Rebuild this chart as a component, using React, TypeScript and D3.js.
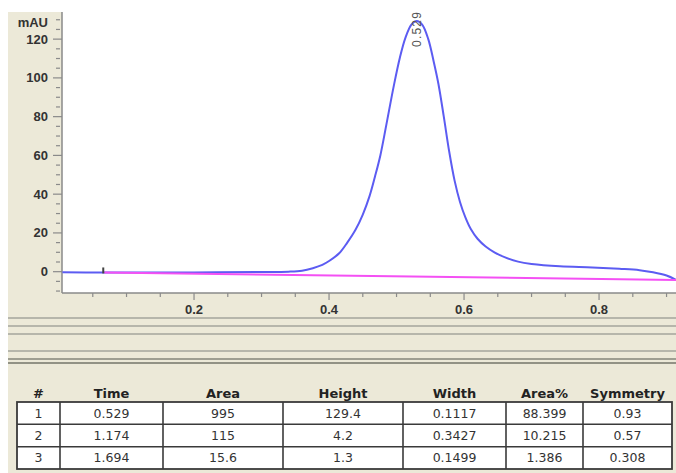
import React from "react";
import * as d3 from "d3";

const signalTimes = [0.005, 0.067, 0.1, 0.2, 0.3, 0.34, 0.36, 0.376, 0.39, 0.4, 0.415, 0.427, 0.439, 0.45, 0.46, 0.468, 0.476, 0.485, 0.496, 0.505, 0.513, 0.522, 0.53, 0.538, 0.547, 0.555, 0.562, 0.57, 0.578, 0.586, 0.594, 0.602, 0.61, 0.62, 0.632, 0.645, 0.66, 0.68, 0.7, 0.742, 0.79, 0.83, 0.86, 0.88, 0.9, 0.914];
const signalValues = [-0.3, -0.4, -0.4, -0.4, -0.2, 0, 0.5, 1.8, 3.5, 5.5, 9.5, 15, 21.5, 29.5, 39, 49, 60, 76, 96, 110.5, 120.5, 127.5, 129.4, 127.5, 120, 108.5, 97, 80, 62, 47, 36, 28, 22, 17, 13, 10, 7.5, 5.2, 4, 2.8, 2.2, 1.5, 0.8, -0.3, -2, -4.2];
const baselineTimes = [0.067, 0.914];
const baselineValues = [-0.4, -4.3];

const yTicks = [0, 20, 40, 60, 80, 100, 120];
const xTicks = [0.2, 0.4, 0.6, 0.8];
const peakLabel = "0.529";
const peakTime = 0.53;
const peakValue = 129.4;

const tableHeaders = ["#", "Time", "Area", "Height", "Width", "Area%", "Symmetry"];
const colNum = ["1", "2", "3"];
const colTime = ["0.529", "1.174", "1.694"];
const colArea = ["995", "115", "15.6"];
const colHeight = ["129.4", "4.2", "1.3"];
const colWidth = ["0.1117", "0.3427", "0.1499"];
const colAreaPct = ["88.399", "10.215", "1.386"];
const colSym = ["0.93", "0.57", "0.308"];

const W = 676;
const H = 473;
const plotLeft = 62;
const plotRight = 676;
const plotTop = 12;
const plotBottom = 293;

export default function App() {
  const x = d3.scaleLinear().domain([0.0044, 0.914]).range([plotLeft, plotRight]);
  const y = d3.scaleLinear().domain([-11, 134]).range([plotBottom, plotTop]);

  const sig = signalTimes.map((t, i) => [t, signalValues[i]] as [number, number]);
  const base = baselineTimes.map((t, i) => [t, baselineValues[i]] as [number, number]);
  const line = d3
    .line<[number, number]>()
    .x((d) => x(d[0]))
    .y((d) => y(d[1]))
    .curve(d3.curveCatmullRom.alpha(0.5));

  const yMinor = d3.range(-10, 131, 5).filter((v) => v % 20 !== 0);
  const xMinor = d3
    .range(1, 19)
    .map((i) => i * 0.05)
    .filter((v, i) => (i + 1) % 4 !== 0);

  const axisFont = "'Liberation Sans', Arial, sans-serif";
  const tableFont = "'DejaVu Sans', Verdana, sans-serif";

  const colEdges = [17, 60, 163, 283, 403, 506, 583, 672];
  const rowEdges = [402, 424.3, 446.7, 469];
  const columns = [colNum, colTime, colArea, colHeight, colWidth, colAreaPct, colSym];

  const rules = [
    { y: 318, c: "#a4a49c" },
    { y: 326, c: "#a4a49c" },
    { y: 334, c: "#a4a49c" },
    { y: 351, c: "#a4a49c" },
    { y: 359, c: "#85857a" },
    { y: 363, c: "#75756a" },
  ];

  return (
    <svg width={W} height={H} style={{ position: "absolute", left: 0, top: 0 }}>
      <rect x={0} y={0} width={W} height={H} fill="#ffffff" />
      <rect x={8} y={plotTop} width={W - 8} height={H - plotTop} fill="#ece9d8" />
      <rect x={plotLeft} y={0} width={plotRight - plotLeft} height={plotBottom} fill="#ffffff" />

      {/* y axis */}
      <line x1={plotLeft} x2={plotLeft} y1={plotTop} y2={plotBottom} stroke="#8a8a8a" strokeWidth={1.5} />
      {yTicks.map((v) => (
        <g key={"yt" + v}>
          <line x1={53} x2={plotLeft} y1={y(v)} y2={y(v)} stroke="#8a8a8a" strokeWidth={1.2} />
          <text x={48} y={y(v)} dy="0.35em" textAnchor="end" fontFamily={axisFont} fontWeight="bold" fontSize={13} fill="#333">
            {v}
          </text>
        </g>
      ))}
      {yMinor.map((v) => (
        <line key={"ym" + v} x1={56} x2={60} y1={y(v)} y2={y(v)} stroke="#8a8a8a" strokeWidth={1.2} />
      ))}
      <text x={48} y={22} dy="0.35em" textAnchor="end" fontFamily={axisFont} fontWeight="bold" fontSize={13} fill="#333">
        mAU
      </text>

      {/* x axis */}
      <line x1={plotLeft} x2={plotRight} y1={plotBottom} y2={plotBottom} stroke="#8a8a8a" strokeWidth={1.5} />
      {xTicks.map((v) => (
        <g key={"xt" + v}>
          <line x1={x(v)} x2={x(v)} y1={plotBottom} y2={plotBottom + 7} stroke="#8a8a8a" strokeWidth={1.2} />
          <text x={x(v)} y={309} dy="0.35em" textAnchor="middle" fontFamily={axisFont} fontWeight="bold" fontSize={13} fill="#333">
            {v}
          </text>
        </g>
      ))}
      {xMinor.map((v) => (
        <line key={"xm" + v} x1={x(v)} x2={x(v)} y1={plotBottom} y2={plotBottom + 4} stroke="#8a8a8a" strokeWidth={1.2} />
      ))}

      {/* traces */}
      <path d={line(sig) || ""} fill="none" stroke="#5c5cf2" strokeWidth={2} />
      <path d={line(base) || ""} fill="none" stroke="#f450f4" strokeWidth={2} />
      <line x1={x(baselineTimes[0]) - 1} x2={x(baselineTimes[0]) - 1} y1={y(baselineValues[0]) - 5} y2={y(baselineValues[0]) + 1} stroke="#444" strokeWidth={2} />

      {/* peak label */}
      <text
        transform={`translate(${x(peakTime) + 4},${y(peakValue) + 26}) rotate(-90)`}
        fontFamily={axisFont}
        fontSize={12}
        letterSpacing={1.2}
        fill="#555"
      >
        {peakLabel}
      </text>

      {/* rules */}
      {rules.map((r, i) => (
        <line key={"r" + i} x1={8} x2={W} y1={r.y} y2={r.y} stroke={r.c} strokeWidth={1.6} />
      ))}

      {/* table */}
      {tableHeaders.map((h, i) => (
        <text key={"h" + i} x={(colEdges[i] + colEdges[i + 1]) / 2} y={393} dy="0.35em" textAnchor="middle" fontFamily={tableFont} fontWeight="bold" fontSize={13} fill="#222">
          {h}
        </text>
      ))}
      <rect x={colEdges[0]} y={rowEdges[0]} width={colEdges[colEdges.length - 1] - colEdges[0]} height={rowEdges[3] - rowEdges[0]} fill="#ffffff" stroke="#3a3a3a" strokeWidth={1.8} />
      {colEdges.slice(1, -1).map((cx, i) => (
        <line key={"cl" + i} x1={cx} x2={cx} y1={rowEdges[0]} y2={rowEdges[3]} stroke="#3a3a3a" strokeWidth={1.6} />
      ))}
      {rowEdges.slice(1, -1).map((ry, i) => (
        <line key={"rl" + i} x1={colEdges[0]} x2={colEdges[colEdges.length - 1]} y1={ry} y2={ry} stroke="#3a3a3a" strokeWidth={1.6} />
      ))}
      {columns.map((col, ci) =>
        col.map((val, ri) => (
          <text
            key={`c${ci}-${ri}`}
            x={(colEdges[ci] + colEdges[ci + 1]) / 2}
            y={(rowEdges[ri] + rowEdges[ri + 1]) / 2}
            dy="0.36em"
            textAnchor="middle"
            fontFamily={tableFont}
            fontSize={12.5}
            fill="#333"
          >
            {val}
          </text>
        ))
      )}
    </svg>
  );
}
